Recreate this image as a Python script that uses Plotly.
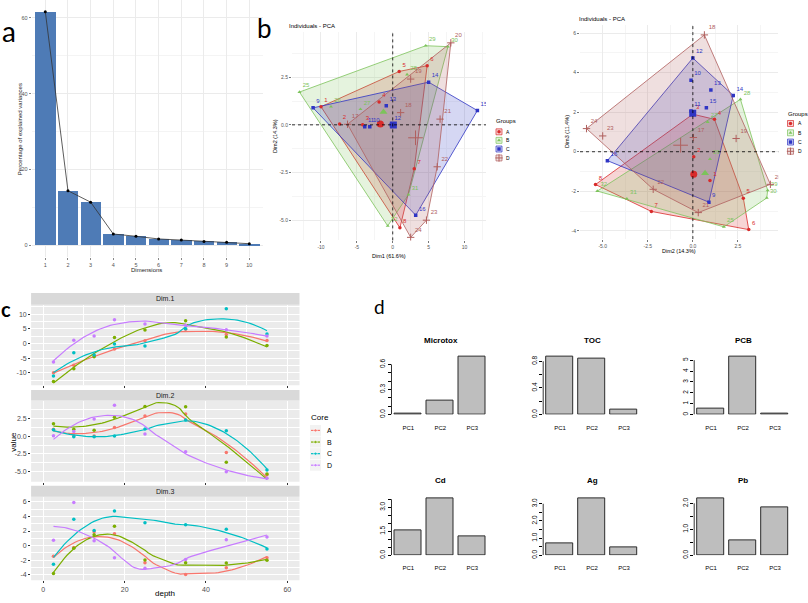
import numpy as np
import plotly.graph_objects as go

W, H = 808, 603
FONT = "Liberation Sans"
LBL_FONT = "Lato"

# ---------------- data ----------------
dims = list(range(1, 11))
eig_pct = [61.6, 14.4, 11.4, 3.0, 2.4, 1.7, 1.4, 1.05, 0.8, 0.45]

cores = ["A", "B", "C", "D"]
depths = [2.5, 7.5, 12.5, 17.5, 25, 35, 45, 55]
sample_ids = {
    "A": [1, 2, 3, 4, 5, 6, 7, 8],
    "B": [25, 26, 27, 28, 29, 30, 31, 32],
    "C": [9, 10, 11, 12, 13, 14, 15, 16],
    "D": [17, 18, 19, 20, 21, 22, 23, 24],
}
dim1 = {
    "A": [-10.0, -7.4, -4.2, -1.9, 0.9, 4.8, 3.0, 1.0],
    "B": [-13.0, -8.6, -4.5, 2.0, 4.6, 7.7, 2.2, -0.7],
    "C": [-11.1, -3.2, -3.9, -0.2, -0.9, 5.0, 11.8, 3.2],
    "D": [-6.3, 1.1, 2.5, 8.1, 6.6, 6.2, 4.7, 2.5],
}
dim2 = {
    "A": [0.95, 0.05, 0.0, 1.2, 2.8, 3.1, -2.3, -5.4],
    "B": [1.72, 0.95, 0.82, 2.64, 4.15, 4.1, -3.66, -5.3],
    "C": [0.89, -0.1, -0.1, 0.0, 1.0, 2.24, 0.75, -4.74],
    "D": [0.03, 0.64, 2.4, 4.3, 0.3, -2.2, -5.0, -5.9],
}
dim3 = {
    "A": [-1.46, -0.25, 1.9, 1.64, -2.35, -3.94, -3.02, -1.66],
    "B": [-3.8, -0.37, 1.5, 2.65, -1.95, -2.34, -2.38, -1.99],
    "C": [-2.55, 3.62, 2.06, 4.74, 3.12, 2.85, 2.23, -0.45],
    "D": [0.72, 5.91, 0.67, -1.65, -3.08, -1.9, 0.8, 1.17],
}

pc_labels = ["PC1", "PC2", "PC3"]
microtox = [0.005, 0.17, 0.69]
toc = [0.865, 0.84, 0.075]
pcb = [0.52, 5.3, 0.05]
cd = [1.55, 3.54, 1.2]
ag = [0.7, 3.3, 0.45]
pb = [2.18, 0.56, 1.86]

microtox_ticks = [0.0, 0.1, 0.2, 0.3, 0.4, 0.5, 0.6]
microtox_tlab = ["0.0", "", "", "0.3", "", "", "0.6"]
toc_ticks = [0.0, 0.2, 0.4, 0.6, 0.8]
toc_tlab = ["0.0", "", "0.4", "", "0.8"]
pcb_ticks = [0, 1, 2, 3, 4, 5]
pcb_tlab = ["0", "1", "2", "3", "4", "5"]
cd_ticks = [0.0, 0.5, 1.0, 1.5, 2.0, 2.5, 3.0, 3.5]
cd_tlab = ["0.0", "", "", "1.5", "", "", "3.0", ""]
ag_ticks = [0.0, 0.5, 1.0, 1.5, 2.0, 2.5, 3.0]
ag_tlab = ["0.0", "", "1.0", "", "2.0", "", "3.0"]
pb_ticks = [0.0, 0.5, 1.0, 1.5, 2.0]
pb_tlab = ["0.0", "", "1.0", "", "2.0"]

# ---------------- styles ----------------
pca_col = {"A": "#D92B2B", "B": "#7CC35B", "C": "#2F35C4", "D": "#B0605E"}
gg_col = {"A": "#F8766D", "B": "#7CAE00", "C": "#00BFC4", "D": "#C77CFF"}
symbols = {"A": "circle", "B": "triangle-up", "C": "square", "D": "cross-thin"}
BAR_BLUE = "#4E7BB6"


def rgba(hexc, a):
    h = hexc.lstrip("#")
    return f"rgba({int(h[0:2],16)},{int(h[2:4],16)},{int(h[4:6],16)},{a})"


def dx(l, r):
    return [l / W, r / W]


def dy(t, b):
    return [1 - b / H, 1 - t / H]


fig = go.Figure()
shapes, annotations = [], []
L = dict(width=W, height=H, margin=dict(l=0, r=0, t=0, b=0, pad=0),
         paper_bgcolor="white", plot_bgcolor="rgba(0,0,0,0)", showlegend=False,
         font=dict(family=FONT, color="black"), hovermode=False, bargap=0)


def ann(text, px, py, size, color="black", xanchor="center", yanchor="middle", angle=0, family=FONT):
    annotations.append(dict(text=text, x=px / W, y=1 - py / H, xref="paper", yref="paper",
                            showarrow=False, font=dict(size=size, color=color, family=family),
                            xanchor=xanchor, yanchor=yanchor, textangle=angle, borderpad=0))


def marker_style(g, size, col=None):
    c = col or pca_col[g]
    if symbols[g] == "cross-thin":
        return dict(symbol="cross-thin", size=size * 1.5, color=c, line=dict(color=c, width=1))
    return dict(symbol=symbols[g], size=size, color=c, line=dict(width=0))


def convex_hull(pts):
    pts = sorted(set(pts))

    def cross(o, a, b):
        return (a[0] - o[0]) * (b[1] - o[1]) - (a[1] - o[1]) * (b[0] - o[0])
    lower, upper = [], []
    for p in pts:
        while len(lower) >= 2 and cross(lower[-2], lower[-1], p) <= 0:
            lower.pop()
        lower.append(p)
    for p in reversed(pts):
        while len(upper) >= 2 and cross(upper[-2], upper[-1], p) <= 0:
            upper.pop()
        upper.append(p)
    h = lower[:-1] + upper[:-1]
    return h + [h[0]]


def loess(x, y, xs, span=0.75):
    x = np.asarray(x, float)
    y = np.asarray(y, float)
    n = len(x)
    q = int(np.floor(n * span))
    out = []
    for x0 in xs:
        d = np.abs(x - x0)
        sd = np.sort(d)
        h = (sd[q - 1] + sd[q]) / 2 if q < n else sd[-1] * 1.0001
        u = d / h
        w = np.where(u < 1, (1 - u ** 3) ** 3, 0.0)
        X = np.vstack([np.ones(n), x - x0, (x - x0) ** 2]).T
        A = X.T @ (w[:, None] * X)
        b = X.T @ (w * y)
        beta = np.linalg.lstsq(A, b, rcond=None)[0]
        out.append(beta[0])
    return np.array(out)


# ================= panel a : scree plot =================
fig.add_trace(go.Bar(x=dims, y=eig_pct, width=0.9, marker=dict(color=BAR_BLUE, line=dict(width=0)),
                     xaxis="x", yaxis="y"))
fig.add_trace(go.Scatter(x=dims, y=eig_pct, mode="lines+markers", line=dict(color="#333", width=0.8),
                         marker=dict(color="black", size=3), xaxis="x", yaxis="y"))
L["xaxis"] = dict(domain=dx(31.7, 262.9), range=[0.4, 10.6], tickvals=dims, ticks="outside", ticklen=2,
                  tickcolor="#888", tickwidth=0.6, tickfont=dict(size=5.5, color="#555"),
                  showgrid=True, gridcolor="#EBEBEB", gridwidth=0.6, zeroline=False, showline=False, anchor="y")
L["yaxis"] = dict(domain=dy(0, 258.8), range=[-3.08, 64.68], tickvals=[0, 20, 40, 60], ticks="outside",
                  ticklen=2, tickcolor="#888", tickwidth=0.6, tickfont=dict(size=5.5, color="#555"),
                  showgrid=True, gridcolor="#EBEBEB", gridwidth=0.6, zeroline=False, showline=False,
                  minor=dict(tickvals=[10, 30, 50], showgrid=True, gridcolor="#F4F4F4", gridwidth=0.5),
                  anchor="x")
ann("Percentage of explained variances", 20, 130, 6, color="#222", angle=-90)
ann("Dimensions", 146, 272, 6, color="#222")


# ================= panel b : PCA individuals =================
def add_pca(xr, yr, xv, yv):
    for g in cores:
        hx, hy = zip(*convex_hull(list(zip(xv[g], yv[g]))))
        fig.add_trace(go.Scatter(x=hx, y=hy, mode="lines", fill="toself", fillcolor=rgba(pca_col[g], 0.2),
                                 line=dict(color=pca_col[g], width=0.8), xaxis=xr, yaxis=yr))
    for g in cores:
        fig.add_trace(go.Scatter(x=xv[g], y=yv[g], mode="markers+text",
                                 text=[str(i) for i in sample_ids[g]], textposition="top right",
                                 textfont=dict(size=6, color=pca_col[g], family=FONT),
                                 marker=marker_style(g, 3.5), xaxis=xr, yaxis=yr))
        fig.add_trace(go.Scatter(x=[float(np.mean(xv[g]))], y=[float(np.mean(yv[g]))], mode="markers",
                                 marker=marker_style(g, 7), xaxis=xr, yaxis=yr))
    shapes.append(dict(type="line", xref=xr, yref=f"{yr} domain", x0=0, x1=0, y0=0, y1=1,
                       line=dict(color="black", width=0.8, dash="dot")))
    shapes.append(dict(type="line", xref=f"{xr} domain", yref=yr, x0=0, x1=1, y0=0, y1=0,
                       line=dict(color="black", width=0.8, dash="dot")))


def pca_axis(domain, rng, tv, tt, minor, anchor):
    return dict(domain=domain, range=rng, tickvals=tv, ticktext=tt, ticks="outside", ticklen=2,
                tickcolor="#777", tickwidth=0.6, tickfont=dict(size=5, color="#555"),
                showgrid=True, gridcolor="#EBEBEB", gridwidth=0.6, zeroline=False, showline=False,
                minor=dict(tickvals=minor, showgrid=True, gridcolor="#F5F5F5", gridwidth=0.5), anchor=anchor)


add_pca("x2", "y2", dim1, dim2)
L["xaxis2"] = pca_axis(dx(292, 486), [-14.04, 13.0], [-10, -5, 0, 5, 10], ["-10", "-5", "0", "5", "10"],
                       [-12.5, -7.5, -2.5, 2.5, 7.5, 12.5], "y2")
L["yaxis2"] = pca_axis(dy(32, 242), [-6.06, 4.88], [-5, -2.5, 0, 2.5], ["-5.0", "-2.5", "0.0", "2.5"],
                       [-3.75, -1.25, 1.25, 3.75], "x2")
add_pca("x3", "y3", dim2, dim3)
L["xaxis3"] = pca_axis(dx(580, 778.3), [-6.26, 4.74], [-5, -2.5, 0, 2.5], ["-5.0", "-2.5", "0.0", "2.5"],
                       [-3.75, -1.25, 1.25, 3.75], "y3")
L["yaxis3"] = pca_axis(dy(25, 240.7), [-4.42, 6.42], [-4, -2, 0, 2, 4, 6], ["-4", "-2", "0", "2", "4", "6"],
                       [-3, -1, 1, 3, 5], "x3")

ann("Individuals - PCA", 288, 26, 6, xanchor="left")
ann("Dim1 (61.6%)", 389, 258, 5.5)
ann("Dim2 (14.3%)", 275, 137, 5.5, angle=-90)
ann("Individuals - PCA", 578, 19, 6, xanchor="left")
ann("Dim2 (14.3%)", 679, 253, 5.5)
ann("Dim3 (11.4%)", 567, 133, 5.5, angle=-90)

# ================= panel c : dims vs depth =================
c_panels = [("x4", "y4", dim1, "Dim.1", (306.7, 387.7), [-14.2, 13.2], [-10, -5, 0, 5, 10],
             ["-10", "-5", "0", "5", "10"], [-12.5, -7.5, -2.5, 2.5, 7.5, 12.5], (295, 306.7)),
            ("x5", "y5", dim2, "Dim.2", (403.3, 485), [-6.39, 4.96], [-5, -2.5, 0, 2.5],
             ["-5.0", "-2.5", "0.0", "2.5"], [-6.25, -3.75, -1.25, 1.25, 3.75], (392.7, 403.3)),
            ("x6", "y6", dim3, "Dim.3", (500, 584), [-4.72, 6.7], [-4, -2, 0, 2, 4, 6],
             ["-4", "-2", "0", "2", "4", "6"], [-3, -1, 1, 3, 5], (489, 500))]
C_L, C_R = 31.1, 299.5
xs = np.linspace(min(depths), max(depths), 80)
for i, (xr, yr, dd, name, (t, b), rng, tv, tt, mv, (st, sb)) in enumerate(c_panels):
    shapes.append(dict(type="rect", xref=f"{xr} domain", yref=f"{yr} domain", x0=0, x1=1, y0=0, y1=1,
                       fillcolor="#EBEBEB", line=dict(width=0), layer="below"))
    for g in cores:
        fig.add_trace(go.Scatter(x=depths, y=dd[g], mode="markers", marker=dict(color=gg_col[g], size=3.5),
                                 xaxis=xr, yaxis=yr))
        fig.add_trace(go.Scatter(x=xs, y=loess(depths, dd[g], xs), mode="lines",
                                 line=dict(color=gg_col[g], width=1.2), xaxis=xr, yaxis=yr))
    L[f"xaxis{4 + i}"] = dict(domain=dx(C_L, C_R), range=[-3, 63], tickvals=[0, 20, 40, 60],
                              showticklabels=(i == 2), ticks="outside", ticklen=2, tickcolor="#333",
                              tickwidth=0.6, tickfont=dict(size=7, color="#4D4D4D"),
                              showgrid=True, gridcolor="white", gridwidth=1, zeroline=False, showline=False,
                              minor=dict(tickvals=[10, 30, 50], showgrid=True, gridcolor="white", gridwidth=0.5),
                              anchor=yr)
    L[f"yaxis{4 + i}"] = dict(domain=dy(t, b), range=rng, tickvals=tv, ticktext=tt, ticks="outside",
                              ticklen=2, tickcolor="#333", tickwidth=0.6, tickfont=dict(size=7, color="#4D4D4D"),
                              showgrid=True, gridcolor="white", gridwidth=1, zeroline=False, showline=False,
                              minor=dict(tickvals=mv, showgrid=True, gridcolor="white", gridwidth=0.5),
                              anchor=xr)
    shapes.append(dict(type="rect", xref="paper", yref="paper", x0=C_L / W, x1=C_R / W,
                       y0=1 - sb / H, y1=1 - st / H, fillcolor="#D9D9D9", line=dict(width=0)))
    ann(name, (C_L + C_R) / 2, (st + sb) / 2, 7, color="#1A1A1A")
ann("value", 12.7, 445, 8, angle=-90)
ann("depth", 165, 597, 8)

# ================= panel d : loadings bar charts =================
bar_pos = [0.2 + 1.2 * i + 0.5 for i in range(3)]
d_panels = [("Microtox", microtox, microtox_ticks, microtox_tlab, 395.0, 357.0, 417.3, 342.3),
            ("TOC", toc, toc_ticks, toc_tlab, 546.7, 357.0, 417.3, 342.3),
            ("PCB", pcb, pcb_ticks, pcb_tlab, 697.7, 357.0, 417.3, 342.3),
            ("Cd", cd, cd_ticks, cd_tlab, 395.0, 499.7, 559.0, 484.0),
            ("Ag", ag, ag_ticks, ag_tlab, 546.7, 499.7, 559.0, 484.0),
            ("Pb", pb, pb_ticks, pb_tlab, 697.7, 499.7, 559.0, 484.0)]
for j, (title, vals, tv, tt, left, top, base, ty) in enumerate(d_panels):
    idx = 7 + j
    xr, yr = f"x{idx}", f"y{idx}"
    fig.add_trace(go.Bar(x=bar_pos, y=vals, width=1.0,
                         marker=dict(color="#BEBEBE", line=dict(color="#2A2A2A", width=1)),
                         xaxis=xr, yaxis=yr))
    dl = left - 3.5
    L[f"xaxis{idx}"] = dict(domain=dx(dl, dl + 96.8), range=[0.069, 3.7], tickvals=bar_pos, ticktext=pc_labels,
                            ticks="outside", ticklen=7, tickcolor="rgba(0,0,0,0)", tickfont=dict(size=6),
                            showgrid=False, zeroline=False, showline=False, anchor=yr)
    L[f"yaxis{idx}"] = dict(domain=dy(top, base), range=[0, 1.04 * max(vals)], tickvals=tv, ticktext=tt,
                            ticks="outside", ticklen=3, tickcolor="black", tickwidth=0.8, tickangle=-90,
                            tickfont=dict(size=6.5), showgrid=False, zeroline=False, showline=False, anchor=xr)
    shapes.append(dict(type="line", xref=f"{xr} domain", yref=yr, x0=0, x1=0, y0=tv[0], y1=tv[-1],
                       line=dict(color="black", width=0.8)))
    ann(f"<b>{title}</b>", left + 45.5, ty, 8)

# ================= overlay for legends =================
L["xaxis13"] = dict(domain=[0, 1], range=[0, W], visible=False, fixedrange=True, anchor="y13")
L["yaxis13"] = dict(domain=[0, 1], range=[H, 0], visible=False, fixedrange=True, anchor="x13")


def pca_legend(tx, ty, kx, rows):
    ann("Groups", tx, ty, 6, xanchor="left")
    for g, cy in zip(cores, rows):
        shapes.append(dict(type="rect", xref="x13", yref="y13", x0=kx - 3, x1=kx + 3, y0=cy - 3, y1=cy + 3,
                           fillcolor=rgba(pca_col[g], 0.2), line=dict(color=pca_col[g], width=0.7),
                           layer="below"))
        fig.add_trace(go.Scatter(x=[kx], y=[cy], mode="markers", marker=marker_style(g, 3.5),
                                 xaxis="x13", yaxis="y13"))
        ann(g, kx + 6, cy, 5, xanchor="left")


pca_legend(495, 122, 499, [132.7, 141.3, 150.0, 159.0])
pca_legend(787, 115, 790.5, [124.3, 133.7, 143.0, 152.3])

ann("Core", 310, 420, 8, xanchor="left")
for g, cy in zip(cores, [433.3, 445.0, 456.7, 468.3]):
    shapes.append(dict(type="rect", xref="x13", yref="y13", x0=310, x1=321, y0=cy - 5.5, y1=cy + 5.5,
                       fillcolor="#F2F2F2", line=dict(width=0), layer="below"))
    fig.add_trace(go.Scatter(x=[311, 315.5, 320], y=[cy, cy, cy], mode="lines+markers",
                             line=dict(color=gg_col[g], width=1.2), marker=dict(color=gg_col[g], size=[0, 3.5, 0]),
                             xaxis="x13", yaxis="y13"))
    ann(g, 325.5, cy, 7, xanchor="left")

# panel letters
ann("a", 9, 31, 28, family=LBL_FONT)
ann("b", 264, 28, 26, family=LBL_FONT)
ann("<b>c</b>", 6, 311, 20, family=LBL_FONT)
ann("d", 379, 309, 19, family=LBL_FONT)

L["shapes"] = shapes
L["annotations"] = annotations
fig.update_layout(**L)
fig.write_html("out.html", config={"displayModeBar": False},
               post_script="document.body.style.margin='0px';document.body.style.overflow='hidden';")
